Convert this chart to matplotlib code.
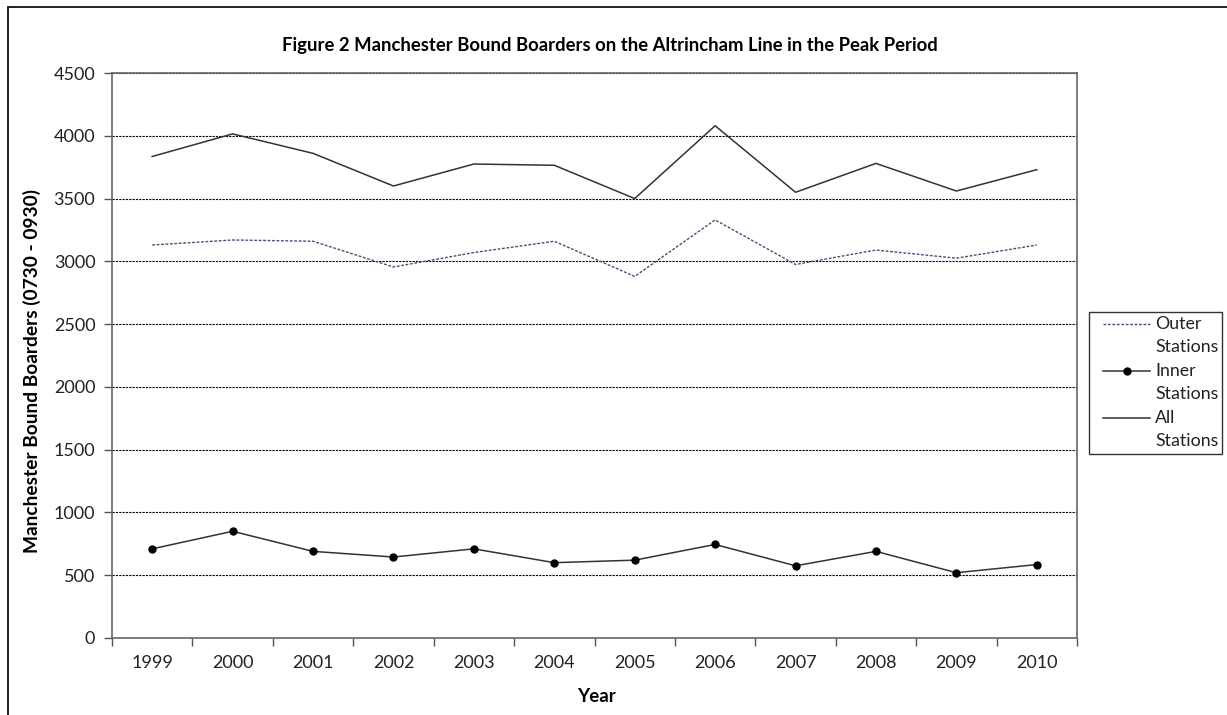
import numpy as np
import matplotlib.pyplot as plt
from matplotlib.patches import Rectangle
from matplotlib.lines import Line2D

years = ['1999', '2000', '2001', '2002', '2003', '2004',
         '2005', '2006', '2007', '2008', '2009', '2010']
outer_stations = [3130, 3170, 3160, 2955, 3070, 3160, 2880, 3330, 2975, 3090, 3025, 3130]
inner_stations = [710, 850, 690, 645, 710, 600, 620, 745, 575, 690, 520, 585]
all_stations = [3835, 4015, 3860, 3600, 3775, 3765, 3500, 4080, 3550, 3780, 3560, 3730]
series_names = [('Outer', 'Stations'), ('Inner', 'Stations'), ('All', 'Stations')]

plt.rcParams['font.family'] = ['Lato', 'DejaVu Sans']

W, H = 1227, 715
fig = plt.figure(figsize=(W / 100, H / 100), dpi=100)
ax = fig.add_axes([112 / W, 1 - 638 / H, (1077 - 112) / W, (638 - 73) / H])

# outer border of the chart
fig.patches.append(Rectangle((8 / W, -0.05), 1.1, 1.05 - 7 / H,
                             transform=fig.transFigure, fill=False,
                             edgecolor='#111111', linewidth=1.3))

line_styles = [
    dict(color='#4b4b7a', linewidth=1.0, linestyle=(0, (2, 1.2))),
    dict(color='#333333', linewidth=1.1),
    dict(color='#333333', linewidth=1.1),
]
has_marker = [False, True, False]
marker_style = dict(marker='o', markersize=5, markerfacecolor='black', markeredgecolor='black')

x = np.arange(len(years))
for vals, st, mk in zip([outer_stations, inner_stations, all_stations], line_styles, has_marker):
    if mk:
        ax.plot(x, vals, **st, **marker_style)
    else:
        ax.plot(x, vals, **st)

ax.set_ylim(0, 4500)
ax.set_xlim(-0.5, len(years) - 0.5)
ax.set_yticks(np.arange(0, 4501, 500))
ax.yaxis.grid(True, color='black', linestyle=(0, (2, 1)), linewidth=0.8)
ax.set_axisbelow(True)

# ticks between categories, labels centred on categories
ax.set_xticks(np.arange(-0.5, len(years), 1))
ax.set_xticklabels([])
ax.set_xticks(x, minor=True)
ax.set_xticklabels(years, minor=True)
ax.tick_params(axis='x', which='major', length=6, color='#555555', width=1)
ax.tick_params(axis='x', which='minor', length=0, pad=12, labelsize=13, labelcolor='#222222')
ax.tick_params(axis='y', length=6, color='#555555', width=1, labelsize=13, labelcolor='#222222', pad=6)

for s in ax.spines.values():
    s.set_color('#666666')
    s.set_linewidth(1.2)

fig.text(610 / W, 1 - 45 / H,
         'Figure 2 Manchester Bound Boarders on the Altrincham Line in the Peak Period',
         ha='center', va='center', fontsize=13.3, fontweight='bold')
fig.text(32 / W, 1 - 371 / H, 'Manchester Bound Boarders (0730 - 0930)',
         rotation=90, ha='center', va='center', fontsize=13.8, fontweight='bold')
fig.text(596 / W, 1 - 696 / H, 'Year', ha='center', va='center',
         fontsize=13.5, fontweight='bold')

# legend box drawn by hand so the sample line sits beside the first text line
fig.patches.append(Rectangle((1089 / W, 1 - 454 / H), (1222 - 1089) / W, (454 - 312) / H,
                             transform=fig.transFigure, facecolor='white',
                             edgecolor='#333333', linewidth=1.0))
for i, (st, mk, (l1, l2)) in enumerate(zip(line_styles, has_marker, series_names)):
    y0 = 324 + i * 47
    fig.add_artist(Line2D([1103 / W, 1150 / W], [1 - y0 / H, 1 - y0 / H],
                          transform=fig.transFigure, **st))
    if mk:
        fig.add_artist(Line2D([1126.5 / W], [1 - y0 / H], transform=fig.transFigure,
                              linestyle='none', **marker_style))
    fig.text(1155 / W, 1 - y0 / H, l1, ha='left', va='center', fontsize=12.8, color='#222222')
    fig.text(1155 / W, 1 - (y0 + 23) / H, l2, ha='left', va='center', fontsize=12.8, color='#222222')

fig.savefig('out.png', dpi=100)
